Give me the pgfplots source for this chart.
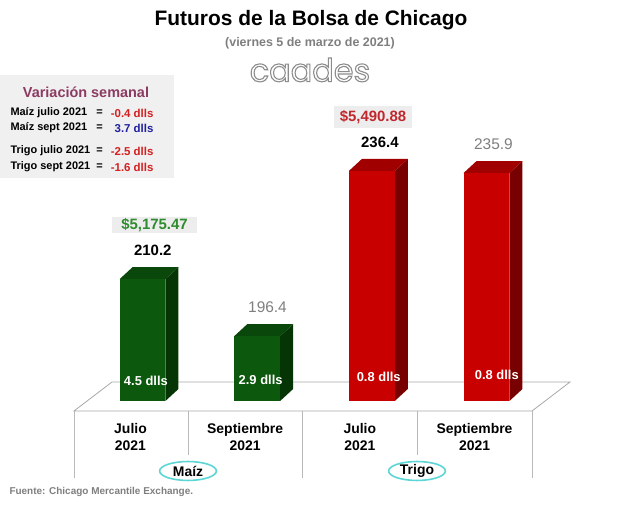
\documentclass[border=0pt]{standalone}
\usepackage{fontspec}
\setmainfont{Liberation Sans}
\newfontfamily\logofont{Poppins}
\usepackage{pgfplots}
\pgfplotsset{compat=1.18}
\usetikzlibrary{shapes.geometric}
\definecolor{gfront}{HTML}{0C580C}
\definecolor{gside}{HTML}{053505}
\definecolor{gtop}{HTML}{0A470A}
\definecolor{rfront}{HTML}{C80000}
\definecolor{rside}{HTML}{780000}
\definecolor{rtop}{HTML}{A00000}
\definecolor{panelgray}{HTML}{F0F0F0}
\definecolor{boxgray}{HTML}{EDEDED}
\definecolor{floorgray}{HTML}{A8A8A8}
\definecolor{pricegreen}{HTML}{2E8B2E}
\definecolor{pricered}{HTML}{C0282D}
\definecolor{varred}{HTML}{D42020}
\definecolor{varblue}{HTML}{2020A0}
\definecolor{vartitle}{HTML}{8B3A62}
\definecolor{ringcyan}{HTML}{5CD6D6}
\definecolor{txtgray}{HTML}{7F7F7F}
\newcommand\fs[1]{\fontsize{#1}{#1}\selectfont}
\newcommand\PP[2]{(#1,{505-#2})}
\def\base{180.7}
% 3D bar: #1 x, #2 value, #3 front, #4 side, #5 top
\newcommand\tdbar[5]{%
\addplot[fill=#4,draw=none] table[row sep=\\, x expr={#1+\thisrow{a}}, y expr={\base+\thisrow{t}*(#2-\base)+\thisrow{d}}]
 {a t d\\ 0.2 0 0\\ 0.3134 0 2.905\\ 0.3134 1 2.905\\ 0.2 1 0\\};
\addplot[fill=#5,draw=none] table[row sep=\\, x expr={#1+\thisrow{a}}, y expr={\base+\thisrow{t}*(#2-\base)+\thisrow{d}}]
 {a t d\\ -0.2 1 0\\ 0.2 1 0\\ 0.3134 1 2.905\\ -0.0866 1 2.905\\};
\addplot[fill=#3,draw=none] table[row sep=\\, x expr={#1+\thisrow{a}}, y expr={\base+\thisrow{t}*(#2-\base)+\thisrow{d}}]
 {a t d\\ -0.2 0 0\\ 0.2 0 0\\ 0.2 1 0\\ -0.2 1 0\\};
}
\begin{document}
\begin{tikzpicture}[x=1bp,y=1bp]
\useasboundingbox (0,0) rectangle (628,505);
\fill[white] (0,0) rectangle (628,505);
% left panel
\fill[panelgray] \PP{0}{178} rectangle \PP{174}{75};
% floor
\draw[floorgray, line width=0.8] \PP{74}{411} -- \PP{532}{411} -- \PP{570}{382} -- \PP{112}{382} -- cycle;
\draw[floorgray!80, line width=0.8] \PP{74}{411} -- \PP{74}{478};
\draw[floorgray!80, line width=0.8] \PP{188}{411} -- \PP{188}{455};
\draw[floorgray!80, line width=0.8] \PP{302}{411} -- \PP{302}{478};
\draw[floorgray!80, line width=0.8] \PP{417}{411} -- \PP{417}{455};
\draw[floorgray!80, line width=0.8] \PP{532}{411} -- \PP{532}{478};
\begin{axis}[at={(0bp,505bp)}, anchor=north west, scale only axis,
  width=628bp, height=411bp,
  xmin=-1.2427, xmax=4.2339, ymin=178.28, ymax=277.79,
  axis line style={draw=none}, tick style={draw=none},
  ytick=\empty,
  xtick={-0.1047,0.8953,1.8953,2.8953},
  xticklabels={{Julio\\2021},{Septiembre\\2021},{Julio\\2021},{Septiembre\\2021}},
  xticklabel style={align=center, font=\bfseries\fontsize{14}{17}\selectfont, yshift=-9bp},
  clip=false]
% Maiz
\tdbar{0}{210.2}{gfront}{gside}{gtop}
\tdbar{1}{196.4}{gfront}{gside}{gtop}
% Trigo
\tdbar{2}{236.4}{rfront}{rside}{rtop}
\tdbar{3}{235.9}{rfront}{rside}{rtop}
% value labels
\node[font=\bfseries\fs{15}] at (axis cs:0.09,{210.2+7.0}) {210.2};
\node[font=\fs{15.5}, text=txtgray] at (axis cs:1.09,{196.4+7.0}) {196.4};
\node[font=\bfseries\fs{15}] at (axis cs:2.07,{236.4+7.0}) {236.4};
\node[font=\fs{15.5}, text=txtgray] at (axis cs:3.06,{235.9+7.0}) {235.9};
% inner labels
\node[font=\bfseries\fs{13}, text=white] at (axis cs:0.03,{\base+4.84}) {4.5 dlls};
\node[font=\bfseries\fs{13}, text=white] at (axis cs:1.03,{\base+5.1}) {2.9 dlls};
\node[font=\bfseries\fs{13}, text=white] at (axis cs:2.06,{\base+5.8}) {0.8 dlls};
\node[font=\bfseries\fs{13}, text=white] at (axis cs:3.09,{\base+6.3}) {0.8 dlls};
\end{axis}
% price boxes
\node[fill=boxgray, text=pricegreen, font=\bfseries\fs{15}, minimum width=85, minimum height=17, inner sep=0] at \PP{154.5}{225} {\$5,175.47};
\node[fill=boxgray, text=pricered, font=\bfseries\fs{15}, minimum width=79, minimum height=23, inner sep=0] at \PP{373}{117} {\$5,490.88};
% titles
\node[font=\bfseries\fs{21}] at \PP{311}{20} {Futuros de la Bolsa de Chicago};
\node[font=\bfseries\fs{12.5}, text=txtgray] at \PP{310}{43} {(viernes 5 de marzo de 2021)};
% logo (outlined text)
\node[font=\logofont\fs{32}, text=white] at \PP{310}{70} {\special{pdf:literal direct 0.55 G 1.1 w 2 Tr}caades\special{pdf:literal direct 0 Tr}};
% variation panel
\node[font=\bfseries\fs{14.5}, text=vartitle] at \PP{86}{92} {Variación semanal};
\node[font=\bfseries\fs{11}, anchor=west] at \PP{7}{113} {Maíz julio 2021};
\node[font=\bfseries\fs{11}, anchor=west] at \PP{7}{128} {Maíz sept 2021};
\node[font=\bfseries\fs{11}, anchor=west] at \PP{7}{151} {Trigo julio 2021};
\node[font=\bfseries\fs{11}, anchor=west] at \PP{7}{167} {Trigo sept 2021};
\node[font=\bfseries\fs{11}] at \PP{99.5}{113} {=};
\node[font=\bfseries\fs{11}] at \PP{99.5}{128} {=};
\node[font=\bfseries\fs{11}] at \PP{99.5}{151} {=};
\node[font=\bfseries\fs{11}] at \PP{99.5}{167} {=};
\node[font=\bfseries\fs{11.5}, anchor=east, text=varred] at \PP{157}{113} {-0.4 dlls};
\node[font=\bfseries\fs{11.5}, anchor=east, text=varblue] at \PP{157}{128} {3.7 dlls};
\node[font=\bfseries\fs{11.5}, anchor=east, text=varred] at \PP{157}{151} {-2.5 dlls};
\node[font=\bfseries\fs{11.5}, anchor=east, text=varred] at \PP{157}{167} {-1.6 dlls};
% group ellipses
\node[draw=ringcyan, line width=1.6, fill=white, ellipse, minimum width=57, minimum height=19, inner sep=0, font=\bfseries\fs{14}] at \PP{188}{471} {Maíz};
\node[draw=ringcyan, line width=1.6, fill=white, ellipse, minimum width=57, minimum height=19, inner sep=0, font=\bfseries\fs{14}] at \PP{417}{471} {Trigo};
% source
\node[font=\bfseries\fs{10}, text=txtgray, anchor=west] at \PP{6}{492} {Fuente: Chicago Mercantile Exchange.};
\end{tikzpicture}
\end{document}
